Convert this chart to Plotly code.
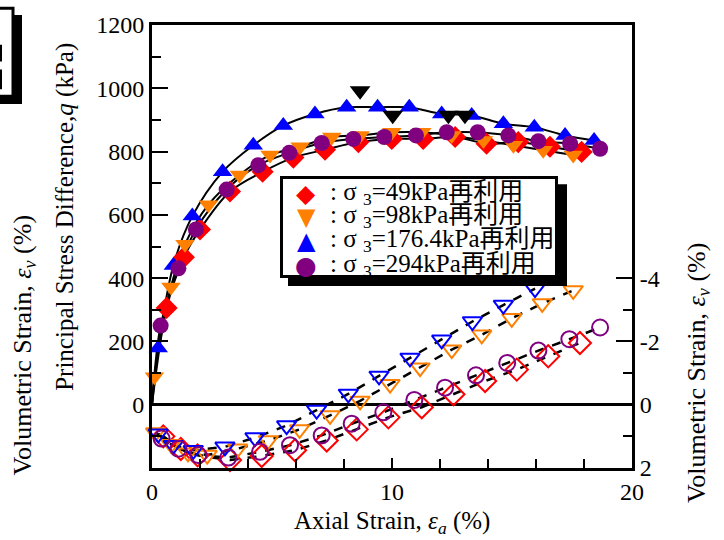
import plotly.graph_objects as go

# ---------------- data ----------------
# Principal stress difference q (kPa) vs axial strain (%)
x_q_49 = [0.61, 1.33, 2.0, 3.25, 4.61, 5.89, 7.21, 8.6, 9.99, 11.3, 12.63, 13.94, 15.26, 16.58, 17.9]
q_49 = [306, 466, 554, 674, 736, 781, 806, 830, 840, 840, 846, 825, 830, 815, 799]

x_q_98 = [0.1, 0.79, 1.375, 2.35, 3.64, 4.92, 6.17, 7.49, 8.67, 9.99, 11.24, 12.49, 13.81, 15.06, 16.3, 17.55]
q_98 = [88, 372, 507, 632, 726, 789, 815, 846, 851, 861, 861, 851, 835, 820, 804, 789]

x_q_176 = [0.26, 0.89, 1.68, 2.94, 4.22, 5.47, 6.79, 8.11, 9.40, 10.72, 12.07, 13.32, 14.64, 15.93, 17.21, 18.42]
q_176 = [179, 440, 596, 736, 820, 882, 919, 940, 940, 940, 919, 914, 888, 877, 851, 835]

x_q_294 = [0.36, 1.1, 1.83, 3.11, 4.43, 5.72, 7.07, 8.39, 9.68, 11.0, 12.28, 13.57, 14.85, 16.1, 17.42, 18.67]
q_294 = [250, 431, 554, 680, 757, 796, 827, 840, 846, 851, 861, 861, 851, 833, 825, 809]

# peak markers
peak_x = [8.67, 10.03, 12.35, 13.04]
peak_q = [992, 915, 915, 915]

# Volumetric strain (%) vs axial strain (%)
x_v_49 = [0.47, 1.2, 1.9, 3.25, 4.57, 5.96, 7.28, 8.53, 9.85, 11.24, 12.56, 13.88, 15.2, 16.51, 17.83]
ev_49 = [1.0, 1.4, 1.6, 1.75, 1.62, 1.44, 1.13, 0.78, 0.4, 0.08, -0.33, -0.75, -1.11, -1.53, -1.95]

x_v_98 = [0.15, 0.8, 1.5, 2.3, 3.57, 4.85, 6.15, 7.42, 8.67, 9.92, 11.17, 12.49, 13.74, 14.99, 16.26, 17.55]
ev_98 = [0.88, 1.25, 1.52, 1.59, 1.39, 1.13, 0.78, 0.34, -0.12, -0.65, -1.17, -1.74, -2.21, -2.73, -3.2, -3.61]

x_v_176 = [0.26, 0.89, 1.72, 3.04, 4.29, 5.61, 6.86, 8.18, 9.46, 10.75, 12.07, 13.35, 14.64, 15.96]
ev_176 = [0.92, 1.28, 1.44, 1.33, 1.04, 0.66, 0.17, -0.34, -0.91, -1.48, -2.05, -2.63, -3.15, -3.67]

x_v_294 = [0.4, 1.1, 1.93, 3.18, 4.5, 5.75, 7.07, 8.32, 9.64, 10.93, 12.21, 13.5, 14.8, 16.1, 17.39, 18.67]
ev_294 = [1.07, 1.39, 1.59, 1.67, 1.49, 1.28, 0.97, 0.6, 0.24, -0.15, -0.54, -0.93, -1.32, -1.71, -2.07, -2.44]

series_labels = ["49", "98", "176.4", "294"]

q_xticks = [0, 10, 20]
q_yticks = [0, 200, 400, 600, 800, 1000, 1200]
ev_ticks = [-4, -2, 0, 2]
ev_ticktext = ["-4", "-2", "0", "2"]

# ---------------- style ----------------
FONT = "Liberation Serif, Times New Roman, serif"
COLORS = ["#FF0000", "#FF8000", "#0000FF", "#800080"]
FILLED = ["diamond", "triangle-down", "triangle-up", "circle"]
OPEN = ["diamond-open", "triangle-down-open", "triangle-down-open", "circle-open"]
SIZES = [17, 17, 17, 16]

W, H = 724, 540
ML, MR, MT, MB = 152, 92, 20, 72
PW, PH = W - ML - MR, H - MT - MB


def fx(px):
    return (px - ML) / PW


def fy(py):
    return (H - MB - py) / PH


fig = go.Figure()

q_sets = [(x_q_49, q_49), (x_q_98, q_98), (x_q_176, q_176), (x_q_294, q_294)]
v_sets = [(x_v_49, ev_49), (x_v_98, ev_98), (x_v_176, ev_176), (x_v_294, ev_294)]

# fitted curves
for xs, ys in q_sets:
    fig.add_trace(go.Scatter(x=[0] + xs, y=[0] + ys, mode="lines",
                             line=dict(color="black", width=2, shape="spline", smoothing=0.9),
                             showlegend=False, hoverinfo="skip"))
for xs, ys in v_sets:
    fig.add_trace(go.Scatter(x=xs, y=ys, mode="lines", yaxis="y2",
                             line=dict(color="black", width=2.5, dash="dash"),
                             showlegend=False, hoverinfo="skip"))

# markers
for i, (xs, ys) in enumerate(v_sets):
    fig.add_trace(go.Scatter(x=xs, y=ys, mode="markers", yaxis="y2",
                             marker=dict(symbol=OPEN[i], size=SIZES[i], color=COLORS[i],
                                         line=dict(width=2, color=COLORS[i])),
                             showlegend=False, cliponaxis=False))
for i, (xs, ys) in enumerate(q_sets):
    fig.add_trace(go.Scatter(x=xs, y=ys, mode="markers",
                             marker=dict(symbol=FILLED[i], size=SIZES[i], color=COLORS[i],
                                         line=dict(width=0)),
                             showlegend=False, cliponaxis=False))

fig.add_trace(go.Scatter(x=peak_x, y=peak_q, mode="markers",
                         marker=dict(symbol="triangle-down", size=18, color="black"),
                         showlegend=False))

axis_common = dict(showline=True, linecolor="black", linewidth=3, showgrid=False,
                   tickcolor="black", tickfont=dict(family=FONT, size=24, color="black"),
                   ticks="inside")

fig.update_layout(
    width=W, height=H,
    margin=dict(l=ML, r=MR, t=MT, b=MB),
    paper_bgcolor="white", plot_bgcolor="white",
    showlegend=False,
    font=dict(family=FONT, size=24, color="black"),
    xaxis=dict(range=[0, 20], tickvals=q_xticks, ticklen=10, tickwidth=2,
               minor=dict(tickvals=[2, 4, 6, 8, 12, 14, 16, 18], ticklen=9, tickwidth=2,
                          ticks="inside", tickcolor="black"),
               mirror=True, zeroline=False, **axis_common),
    yaxis=dict(range=[-200, 1200], tickvals=q_yticks, ticklen=16, tickwidth=2,
               minor=dict(tickvals=[-100, 100, 300, 500, 700, 900, 1100], ticklen=9,
                          tickwidth=2, ticks="inside", tickcolor="black"),
               zeroline=True, zerolinecolor="black", zerolinewidth=2.5, **axis_common),
    yaxis2=dict(range=[2, -12], overlaying="y", side="right", tickvals=ev_ticks,
                ticktext=ev_ticktext, ticklen=16, tickwidth=2,
                minor=dict(tickvals=[-3, -1, 1], ticklen=9, tickwidth=2, ticks="inside",
                           tickcolor="black"),
                zeroline=False, **axis_common),
)

# ---- legend (manual, with drop shadow) ----
shapes = [
    dict(type="rect", xref="paper", yref="paper", x0=fx(288), x1=fx(567), y0=fy(181), y1=fy(284),
         fillcolor="black", line=dict(width=0), layer="above"),
    # cut-off panel box top-left
    dict(type="rect", xref="paper", yref="paper", x0=fx(-10), x1=fx(22), y0=fy(10), y1=fy(100),
         fillcolor="black", line=dict(width=0), layer="above"),
    dict(type="rect", xref="paper", yref="paper", x0=fx(-10), x1=fx(13), y0=fy(3), y1=fy(92),
         fillcolor="white", line=dict(width=3, color="black"), layer="above"),
    dict(type="line", xref="paper", yref="paper", x0=fx(1), x1=fx(1), y0=fy(40), y1=fy(57),
         line=dict(width=2, color="black"), layer="above"),
    dict(type="line", xref="paper", yref="paper", x0=fx(1), x1=fx(1), y0=fy(65), y1=fy(85),
         line=dict(width=2, color="black"), layer="above"),
]
fig.update_layout(shapes=shapes)

annotations = [
    dict(xref="paper", yref="paper", x=fx(280), y=fy(173), xanchor="left", yanchor="top",
         text=" ", width=272, height=96, bgcolor="white", bordercolor="black",
         borderwidth=3, borderpad=0, showarrow=False),
]
glyphs = ["◆", "▼", "▲", "●"]
glyph_sizes = [25, 24, 24, 25]
row_y = [190, 214, 238, 263]
for i, lab in enumerate(series_labels):
    annotations.append(dict(xref="paper", yref="paper", x=fx(306), y=fy(row_y[i]),
                            xanchor="center", yanchor="middle", text=glyphs[i],
                            font=dict(family="DejaVu Sans", size=glyph_sizes[i], color=COLORS[i]),
                            showarrow=False))
    annotations.append(dict(xref="paper", yref="paper", x=fx(328), y=fy(row_y[i]),
                            xanchor="left", yanchor="middle",
                            text=": σ <sub>3</sub>=" + lab + "kPa再利用",
                            font=dict(family=FONT + ", Noto Sans CJK JP", size=25, color="black"),
                            showarrow=False))

# axis titles
annotations += [
    dict(xref="paper", yref="paper", x=0.5, y=fy(523), xanchor="center", yanchor="middle",
         text="Axial Strain, <i>ε<sub>a</sub></i> (%)", showarrow=False,
         font=dict(family=FONT, size=25)),
    dict(xref="paper", yref="paper", x=fx(65), y=fy(214), xanchor="center", yanchor="middle",
         text="Principal Stress Difference,<i>q</i> (kPa)", textangle=-90, showarrow=False,
         font=dict(family=FONT, size=25)),
    dict(xref="paper", yref="paper", x=fx(24), y=fy(344), xanchor="center", yanchor="middle",
         text="Volumetric Strain, <i>ε<sub>v</sub></i> (%)", textangle=-90, showarrow=False,
         font=dict(family=FONT, size=26)),
    dict(xref="paper", yref="paper", x=fx(698), y=fy(372), xanchor="center", yanchor="middle",
         text="Volumetric Strain, <i>ε<sub>v</sub></i> (%)", textangle=-90, showarrow=False,
         font=dict(family=FONT, size=26)),
]
fig.update_layout(annotations=annotations)

fig.write_html("out.html")
